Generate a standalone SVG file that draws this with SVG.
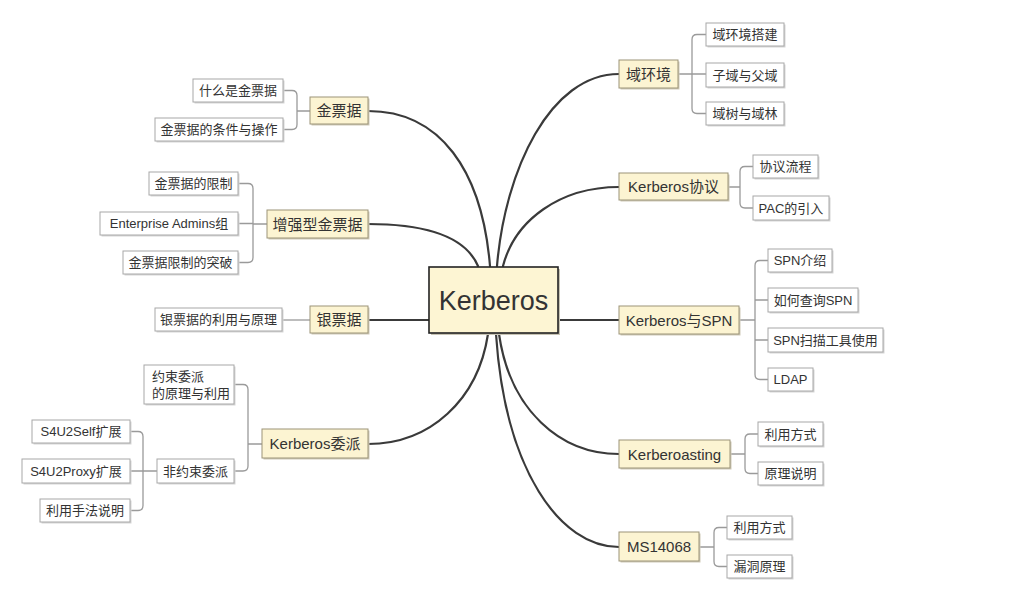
<svg xmlns="http://www.w3.org/2000/svg" width="1024" height="604" viewBox="0 0 1024 604">
<style>
text{font-family:"Liberation Sans","Noto Sans CJK SC",sans-serif;fill:#333;}
.mt rect.b{fill:#fcf4d2;stroke:#9c9478;stroke-width:1;}
.mt rect.s{fill:#cfcab8;}
.mt text{font-size:15px;text-anchor:middle;dominant-baseline:central;}
.st rect.b{fill:#fff;stroke:#a8a8a8;stroke-width:1;}
.st rect.s{fill:#d6d6d6;}
.st text{font-size:13px;text-anchor:middle;dominant-baseline:central;}
.main{fill:none;stroke:#3a3a3a;stroke-width:2.2;stroke-linecap:round;}
.br{fill:none;stroke:#9a9a9a;stroke-width:1.3;}
</style>
<rect width="1024" height="604" fill="#fff"/>
<g id="connectors">
<path class="main" d="M490 266 C482 170 440 111 368 111"/>
<path class="main" d="M478 266 C466 238 430 224 368 224"/>
<path class="main" d="M429 320 L368 320"/>
<path class="main" d="M488 334 C478 400 430 444 368 444"/>
<path class="main" d="M497 266 C505 170 550 74 619 74"/>
<path class="main" d="M503 266 C515 220 560 187 619 187"/>
<path class="main" d="M558 320 L619 320"/>
<path class="main" d="M499 334 C510 410 560 454 619 454"/>
<path class="main" d="M496 334 C505 470 560 547 619 547"/>
<path class="br" d="M310 111 H297 M283 90.5 H292 Q297 90.5 297 95.5 V124.5 Q297 129.5 292 129.5 H283"/>
<path class="br" d="M267 224 H253 M238 183.5 H248 Q253 183.5 253 188.5 V257.5 Q253 262.5 248 262.5 H238 M238 223.5 H253"/>
<path class="br" d="M310 320 H282"/>
<path class="br" d="M262 444 H248 M234 384.5 H243 Q248 384.5 248 389.5 V466 Q248 471 243 471 H234"/>
<path class="br" d="M157 471 H130 M130 431.5 H138 Q143 431.5 143 436.5 V505.5 Q143 510.5 138 510.5 H130"/>
<path class="br" d="M678 74 H706 M706 34.5 H697 Q692 34.5 692 39.5 V108.5 Q692 113.5 697 113.5 H706"/>
<path class="br" d="M728 187 H740 M753 166.5 H745 Q740 166.5 740 171.5 V203 Q740 208 745 208 H753"/>
<path class="br" d="M739 320 H755 M768 260.5 H760 Q755 260.5 755 265.5 V374.5 Q755 379.5 760 379.5 H768 M768 300 H755 M768 340 H755"/>
<path class="br" d="M730 454 H745 M758 434 H750 Q745 434 745 439 V468.5 Q745 473.5 750 473.5 H758"/>
<path class="br" d="M699 547 H714 M727 527.5 H719 Q714 527.5 714 532.5 V561.5 Q714 566.5 719 566.5 H727"/>
</g>
<g id="center">
<rect x="431" y="269" width="129" height="66" fill="#c8c4b4"/>
<rect x="429" y="267" width="129" height="66" fill="#fdf5d3" stroke="#222" stroke-width="1.6"/>
<text x="493.5" y="301" font-size="27" text-anchor="middle" dominant-baseline="central">Kerberos</text>
</g>
<g id="n-jinpiaoju" class="mt"><rect class="s" x="311.5" y="98.5" width="58" height="27"/><rect class="b" x="310" y="97" width="58" height="27"/><text x="339" y="110.5">金票据</text></g>
<g id="n-jp1" class="st"><rect class="s" x="194.5" y="80.5" width="90" height="23"/><rect class="b" x="193" y="79" width="90" height="23"/><text x="238" y="90.5">什么是金票据</text></g>
<g id="n-jp2" class="st"><rect class="s" x="156.5" y="119.5" width="128" height="23"/><rect class="b" x="155" y="118" width="128" height="23"/><text x="219" y="129.5">金票据的条件与操作</text></g>

<g id="n-zqx" class="mt"><rect class="s" x="268.5" y="211.5" width="101" height="28"/><rect class="b" x="267" y="210" width="101" height="28"/><text x="317.5" y="224">增强型金票据</text></g>
<g id="n-zq1" class="st"><rect class="s" x="150.5" y="173.5" width="89" height="23"/><rect class="b" x="149" y="172" width="89" height="23"/><text x="193.5" y="183.5">金票据的限制</text></g>
<g id="n-zq2" class="st"><rect class="s" x="101.5" y="213.5" width="138" height="23"/><rect class="b" x="100" y="212" width="138" height="23"/><text x="169" y="223.5">Enterprise Admins组</text></g>
<g id="n-zq3" class="st"><rect class="s" x="124.5" y="252.5" width="115" height="23"/><rect class="b" x="123" y="251" width="115" height="23"/><text x="180.5" y="262.5">金票据限制的突破</text></g>

<g id="n-yinpiaoju" class="mt"><rect class="s" x="311.5" y="307.5" width="58" height="27"/><rect class="b" x="310" y="306" width="58" height="27"/><text x="339" y="319.5">银票据</text></g>
<g id="n-yp1" class="st"><rect class="s" x="156.5" y="309.5" width="127" height="23"/><rect class="b" x="155" y="308" width="127" height="23"/><text x="218.5" y="319.5">银票据的利用与原理</text></g>

<g id="n-weipai" class="mt"><rect class="s" x="263.5" y="430.5" width="106" height="29"/><rect class="b" x="262" y="429" width="106" height="29"/><text x="315" y="443.5">Kerberos委派</text></g>
<g id="n-wp1" class="st"><rect class="s" x="145.5" y="366.5" width="90" height="39"/><rect class="b" x="144" y="365" width="90" height="39"/><text x="152" y="376" style="text-anchor:start">约束委派</text><text x="152" y="393" style="text-anchor:start">的原理与利用</text></g>
<g id="n-wp2" class="st"><rect class="s" x="158.5" y="460.5" width="77" height="24"/><rect class="b" x="157" y="459" width="77" height="24"/><text x="195.5" y="471">非约束委派</text></g>
<g id="n-wp21" class="st"><rect class="s" x="33.5" y="421.5" width="98" height="23"/><rect class="b" x="32" y="420" width="98" height="23"/><text x="81" y="431.5">S4U2Self扩展</text></g>
<g id="n-wp22" class="st"><rect class="s" x="23.5" y="460.5" width="108" height="24"/><rect class="b" x="22" y="459" width="108" height="24"/><text x="76" y="471">S4U2Proxy扩展</text></g>
<g id="n-wp23" class="st"><rect class="s" x="41.5" y="500.5" width="90" height="23"/><rect class="b" x="40" y="499" width="90" height="23"/><text x="85" y="510.5">利用手法说明</text></g>

<g id="n-yuhuanjing" class="mt"><rect class="s" x="620.5" y="61.5" width="59" height="28"/><rect class="b" x="619" y="60" width="59" height="28"/><text x="648.5" y="74">域环境</text></g>
<g id="n-yh1" class="st"><rect class="s" x="707.5" y="24.5" width="78" height="23"/><rect class="b" x="706" y="23" width="78" height="23"/><text x="745" y="34.5">域环境搭建</text></g>
<g id="n-yh2" class="st"><rect class="s" x="707.5" y="64.5" width="78" height="24"/><rect class="b" x="706" y="63" width="78" height="24"/><text x="745" y="75">子域与父域</text></g>
<g id="n-yh3" class="st"><rect class="s" x="707.5" y="103.5" width="78" height="23"/><rect class="b" x="706" y="102" width="78" height="23"/><text x="745" y="113.5">域树与域林</text></g>

<g id="n-xieyi" class="mt"><rect class="s" x="620.5" y="174.5" width="109" height="27"/><rect class="b" x="619" y="173" width="109" height="27"/><text x="673.5" y="186.5">Kerberos协议</text></g>
<g id="n-xy1" class="st"><rect class="s" x="754.5" y="156.5" width="65" height="23"/><rect class="b" x="753" y="155" width="65" height="23"/><text x="785.5" y="166.5">协议流程</text></g>
<g id="n-xy2" class="st"><rect class="s" x="754.5" y="197.5" width="76" height="24"/><rect class="b" x="753" y="196" width="76" height="24"/><text x="791" y="208">PAC的引入</text></g>

<g id="n-spn" class="mt"><rect class="s" x="620.5" y="307.5" width="120" height="28"/><rect class="b" x="619" y="306" width="120" height="28"/><text x="679" y="320">Kerberos与SPN</text></g>
<g id="n-spn1" class="st"><rect class="s" x="769.5" y="250.5" width="64" height="23"/><rect class="b" x="768" y="249" width="64" height="23"/><text x="800" y="260.5">SPN介绍</text></g>
<g id="n-spn2" class="st"><rect class="s" x="769.5" y="289.5" width="90" height="24"/><rect class="b" x="768" y="288" width="90" height="24"/><text x="813" y="300">如何查询SPN</text></g>
<g id="n-spn3" class="st"><rect class="s" x="769.5" y="329.5" width="115" height="24"/><rect class="b" x="768" y="328" width="115" height="24"/><text x="825.5" y="340">SPN扫描工具使用</text></g>
<g id="n-spn4" class="st"><rect class="s" x="769.5" y="369.5" width="45" height="23"/><rect class="b" x="768" y="368" width="45" height="23"/><text x="790.5" y="379.5">LDAP</text></g>

<g id="n-roast" class="mt"><rect class="s" x="620.5" y="441.5" width="111" height="28"/><rect class="b" x="619" y="440" width="111" height="28"/><text x="674.5" y="454">Kerberoasting</text></g>
<g id="n-ro1" class="st"><rect class="s" x="759.5" y="423.5" width="65" height="24"/><rect class="b" x="758" y="422" width="65" height="24"/><text x="790.5" y="434">利用方式</text></g>
<g id="n-ro2" class="st"><rect class="s" x="759.5" y="463.5" width="65" height="23"/><rect class="b" x="758" y="462" width="65" height="23"/><text x="790.5" y="473.5">原理说明</text></g>

<g id="n-ms" class="mt"><rect class="s" x="620.5" y="533.5" width="80" height="29"/><rect class="b" x="619" y="532" width="80" height="29"/><text x="659" y="546.5">MS14068</text></g>
<g id="n-ms1" class="st"><rect class="s" x="728.5" y="517.5" width="65" height="23"/><rect class="b" x="727" y="516" width="65" height="23"/><text x="759.5" y="527.5">利用方式</text></g>
<g id="n-ms2" class="st"><rect class="s" x="728.5" y="556.5" width="65" height="23"/><rect class="b" x="727" y="555" width="65" height="23"/><text x="759.5" y="566.5">漏洞原理</text></g>
</svg>
